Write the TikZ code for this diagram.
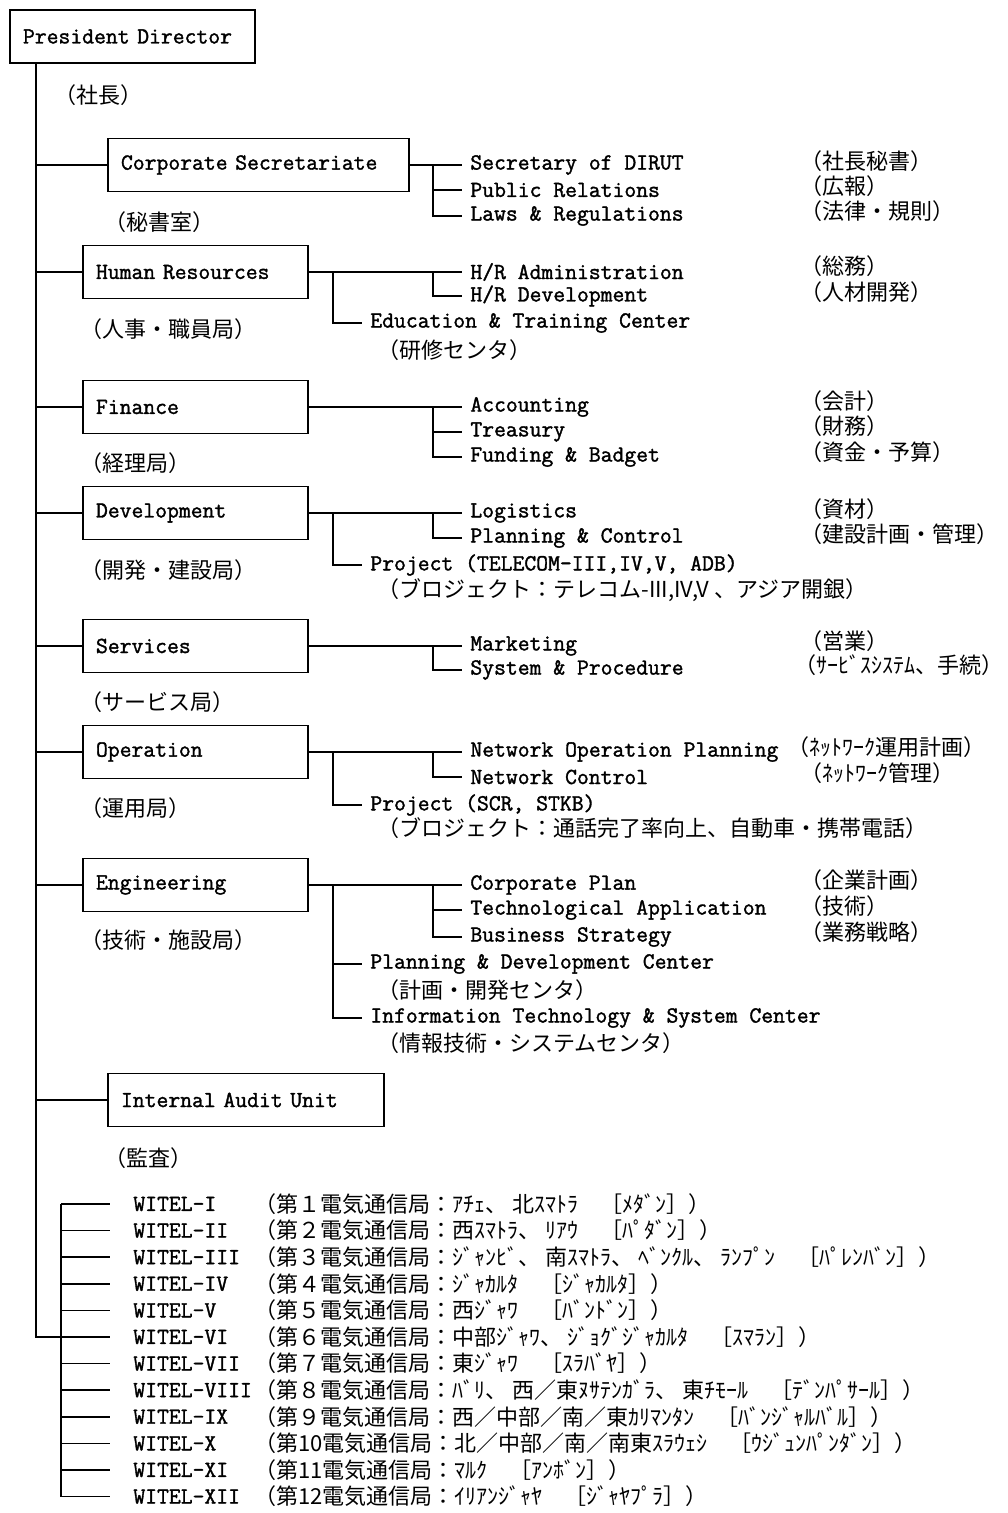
\documentclass[tikz,border=0pt]{standalone}
\usepackage{fontspec}
\usepackage{tikz}
\newfontfamily\latfont{Latin Modern Mono}[FakeBold=1.5]
\newfontfamily\jpfont{Noto Sans CJK JP}
\newcommand{\lat}{\latfont\fontsize{11.5}{13}\selectfont}
\newcommand{\jp}{\jpfont\fontsize{11}{13}\selectfont}

\begin{document}
\begin{tikzpicture}[x=0.5pt,y=-0.5pt,
    unit/.style={draw,line width=0.9pt,minimum height=26.5pt,inner xsep=6.5pt,align=left,font=\lat},
    item/.style={anchor=west,inner xsep=4pt,inner ysep=1pt,font=\lat},
    jp/.style={anchor=west,inner sep=0pt,font=\jp},
    link/.style={line width=0.8pt},
    trunkline/.style={line width=1.2pt}]
\useasboundingbox (0,0) rectangle (1007,1513);

        % head
        \node [unit,text width=109.5pt](pres) at (132.5,36.5){President Director};
        \node [jp](presjp) at (54,95){（社長）};
        \coordinate (trunk) at ([xshift=13.5pt]pres.south west);

        % corporate secretariate
        \node [unit,text width=137.5pt](cs) at (258.5,165){Corporate Secretariate};
        \node [jp](csjp) at (104,222){（秘書室）};
        \node [item](sec) at (462,165){Secretary of DIRUT};
        \node [item](pub) at (462,190){Public Relations};
        \node [item](laws) at (462,216){Laws \& Regulations};
        \node [jp](secjp) at (800,161){（社長秘書）};
        \node [jp](pubjp) at (800,186){（広報）};
        \node [jp](lawsjp) at (800,211){（法律・規則）};
        \coordinate (csa) at (433,165);
        \draw[link] (cs.east) -- (sec.west);
        \draw[link] (csa) |- (pub.west);
        \draw[link] (csa) |- (laws.west);

        % human resources
        \node [unit,text width=99.5pt](hr) at (195.5,272){Human Resources};
        \node [jp](hrjp) at (80,329){（人事・職員局）};
        \node [item](hradm) at (462,272){H/R Administration};
        \node [item](hrdev) at (462,296){H/R Development};
        \node [item](edu) at (362,323){Education \& Training Center};
        \node [jp](edujp) at (377,350){（研修センタ）};
        \node [jp](hradmjp) at (800,266){（総務）};
        \node [jp](hrdevjp) at (800,292){（人材開発）};
        \coordinate (hra) at (433,272);
        \coordinate (hrb) at (333,272);
        \draw[link] (hr.east) -- (hradm.west);
        \draw[link] (hra) |- (hrdev.west);
        \draw[link] (hrb) |- (edu.west);

        % finance
        \node [unit,text width=99.5pt](fin) at (195.5,407){Finance};
        \node [jp](finjp) at (80,463){（経理局）};
        \node [item](acc) at (462,407){Accounting};
        \node [item](tre) at (462,432){Treasury};
        \node [item](fund) at (462,457){Funding \& Badget};
        \node [jp](accjp) at (800,401){（会計）};
        \node [jp](trejp) at (800,426){（財務）};
        \node [jp](fundjp) at (800,452){（資金・予算）};
        \coordinate (fina) at (433,407);
        \draw[link] (fin.east) -- (acc.west);
        \draw[link] (fina) |- (tre.west);
        \draw[link] (fina) |- (fund.west);

        % development
        \node [unit,text width=99.5pt](dev) at (195.5,513){Development};
        \node [jp](devjp) at (80,570){（開発・建設局）};
        \node [item](logi) at (462,513){Logistics};
        \node [item](plan) at (462,538){Planning \& Control};
        \node [item](devproj) at (362,565){Project (TELECOM-III,IV,V, ADB)};
        \node [jp](devprojjp) at (377,590){（ブロジェクト：テレコム-III,IV,V 、アジア開銀）};
        \node [jp](logijp) at (800,509){（資材）};
        \node [jp](planjp) at (800,534){（建設計画・管理）};
        \coordinate (deva) at (433,513);
        \coordinate (devb) at (333,513);
        \draw[link] (dev.east) -- (logi.west);
        \draw[link] (deva) |- (plan.west);
        \draw[link] (devb) |- (devproj.west);

        % services
        \node [unit,text width=99.5pt](serv) at (195.5,646){Services};
        \node [jp](servjp) at (80,702){（サービス局）};
        \node [item](mkt) at (462,646){Marketing};
        \node [item](sysp) at (462,670){System \& Procedure};
        \node [jp](mktjp) at (800,641){（営業）};
        \node [jp](syspjp) at (794,665){（ｻｰﾋﾞｽｼｽﾃﾑ、手続）};
        \coordinate (serva) at (433,646);
        \draw[link] (serv.east) -- (mkt.west);
        \draw[link] (serva) |- (sysp.west);

        % operation
        \node [unit,text width=99.5pt](op) at (195.5,752){Operation};
        \node [jp](opjp) at (80,808){（運用局）};
        \node [item](nop) at (462,752){Network Operation Planning};
        \node [item](nc) at (462,777){Network Control};
        \node [item](opproj) at (362,805){Project (SCR, STKB)};
        \node [jp](opprojjp) at (377,828){（ブロジェクト：通話完了率向上、自動車・携帯電話）};
        \node [jp](nopjp) at (787,747){（ﾈｯﾄﾜｰｸ運用計画）};
        \node [jp](ncjp) at (800,773){（ﾈｯﾄﾜｰｸ管理）};
        \coordinate (opa) at (433,752);
        \coordinate (opb) at (333,752);
        \draw[link] (op.east) -- (nop.west);
        \draw[link] (opa) |- (nc.west);
        \draw[link] (opb) |- (opproj.west);

        % engineering
        \node [unit,text width=99.5pt](eng) at (195.5,885){Engineering};
        \node [jp](engjp) at (80,940){（技術・施設局）};
        \node [item](cp) at (462,885){Corporate Plan};
        \node [item](ta) at (462,910){Technological Application};
        \node [item](bs) at (462,937){Business Strategy};
        \node [item](pdc) at (362,964){Planning \& Development Center};
        \node [jp](pdcjp) at (377,990){（計画・開発センタ）};
        \node [item](itsc) at (362,1018){Information Technology \& System Center};
        \node [jp](itscjp) at (377,1043){（情報技術・システムセンタ）};
        \node [jp](cpjp) at (800,880){（企業計画）};
        \node [jp](tajp) at (800,906){（技術）};
        \node [jp](bsjp) at (800,932){（業務戦略）};
        \coordinate (enga) at (433,885);
        \coordinate (engb) at (333,885);
        \draw[link] (eng.east) -- (cp.west);
        \draw[link] (enga) |- (ta.west);
        \draw[link] (enga) |- (bs.west);
        \draw[link] (engb) |- (pdc.west);
        \draw[link] (engb) |- (itsc.west);

        % audit
        \node [unit,text width=125pt](audit) at (246,1100){Internal Audit Unit};
        \node [jp](auditjp) at (104,1158){（監査）};

        \foreach \b in {cs,hr,fin,dev,serv,op,eng,audit}
            \draw[link] (trunk |- \b.west) -- (\b.west);

        % regional offices
        \coordinate (wv) at (61,1204);
        \foreach \n/\w/\t in {1/WITEL-I/{（第１電気通信局：ｱﾁｪ、 北ｽﾏﾄﾗ　［ﾒﾀﾞﾝ］）},
                2/WITEL-II/{（第２電気通信局：西ｽﾏﾄﾗ、 ﾘｱｳ　［ﾊﾟﾀﾞﾝ］）},
                3/WITEL-III/{（第３電気通信局：ｼﾞｬﾝﾋﾞ、 南ｽﾏﾄﾗ、 ﾍﾞﾝｸﾙ、 ﾗﾝﾌﾟﾝ　［ﾊﾟﾚﾝﾊﾞﾝ］）},
                4/WITEL-IV/{（第４電気通信局：ｼﾞｬｶﾙﾀ　［ｼﾞｬｶﾙﾀ］）},
                5/WITEL-V/{（第５電気通信局：西ｼﾞｬﾜ　［ﾊﾞﾝﾄﾞﾝ］）},
                6/WITEL-VI/{（第６電気通信局：中部ｼﾞｬﾜ、 ｼﾞｮｸﾞｼﾞｬｶﾙﾀ　［ｽﾏﾗﾝ］）},
                7/WITEL-VII/{（第７電気通信局：東ｼﾞｬﾜ　［ｽﾗﾊﾞﾔ］）},
                8/WITEL-VIII/{（第８電気通信局：ﾊﾞﾘ、 西／東ﾇｻﾃﾝｶﾞﾗ、 東ﾁﾓｰﾙ　［ﾃﾞﾝﾊﾟｻｰﾙ］）},
                9/WITEL-IX/{（第９電気通信局：西／中部／南／東ｶﾘﾏﾝﾀﾝ　［ﾊﾞﾝｼﾞｬﾙﾊﾞﾙ］）},
                10/WITEL-X/{（第10電気通信局：北／中部／南／南東ｽﾗｳｪｼ　［ｳｼﾞｭﾝﾊﾟﾝﾀﾞﾝ］）},
                11/WITEL-XI/{（第11電気通信局：ﾏﾙｸ　［ｱﾝﾎﾞﾝ］）},
                12/WITEL-XII/{（第12電気通信局：ｲﾘｱﾝｼﾞｬﾔ　［ｼﾞｬﾔﾌﾟﾗ］）}}{
            \node [item,inner xsep=11.5pt](w\n) at (110,{1204+26.6*(\n-1)}){\w};
            \node [jp](wjp\n) at (254,{1204+26.6*(\n-1)}){\t};
        }
        \draw[link] (wv |- w1.west) -- (wv |- w12.west);
        \foreach \n in {1,...,12}
            \draw[link] (wv |- w\n.west) -- (w\n.west);
        \draw[trunkline] (trunk) |- (w6.west);
\end{tikzpicture}
\end{document}
